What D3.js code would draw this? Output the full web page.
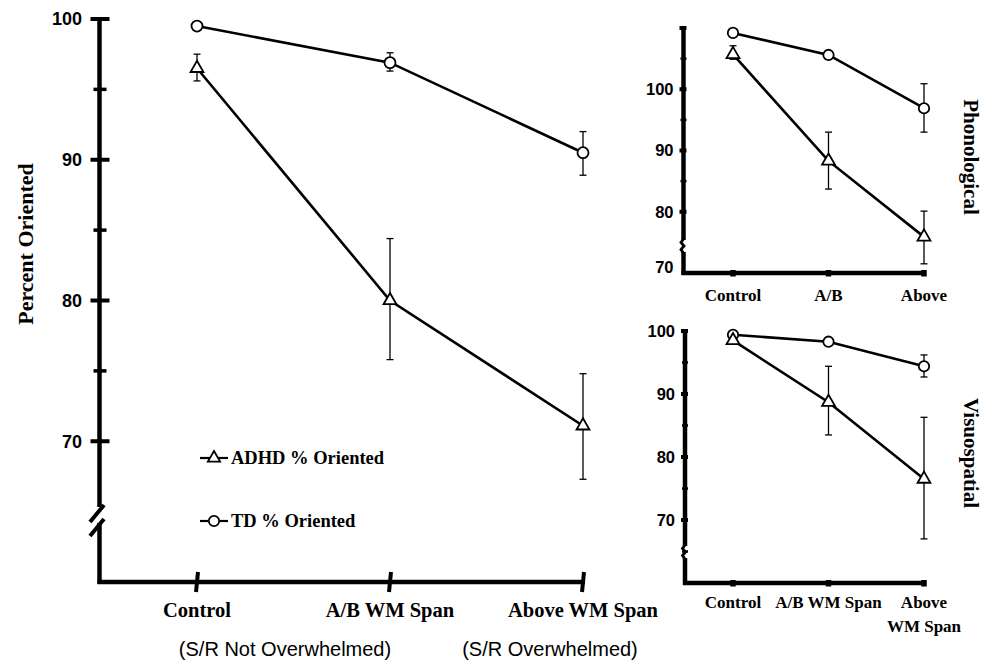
<!DOCTYPE html>
<html>
<head>
<meta charset="utf-8">
<script src="https://cdn.jsdelivr.net/npm/d3@7"></script>
<style>
  body { margin: 0; background: #fff; }
  svg { display: block; }
</style>
</head>
<body>
<div id="chart"></div>
<script>
// categories + values
const categories = ["Control", "A/B WM Span", "Above WM Span"];

const mainTD = [99.5, 96.9, 90.5];
const mainTDErr = [null, [96.3, 97.6], [88.9, 92.0]];
const mainADHD = [96.5, 80.0, 71.1];
const mainADHDErr = [[95.6, 97.5], [75.8, 84.4], [67.3, 74.8]];

const phonTD = [109.2, 105.6, 96.9];
const phonTDErr = [null, null, [93.0, 100.9]];
const phonADHD = [105.7, 88.3, 75.9];
const phonADHDErr = [[104.9, 107.1], [83.7, 93.0], [71.5, 80.1]];

const visTD = [99.4, 98.3, 94.4];
const visTDErr = [null, null, [92.7, 96.2]];
const visADHD = [98.5, 88.7, 76.5];
const visADHDErr = [[98.0, 98.9], [83.5, 94.4], [67.0, 86.3]];

const mainMajorTicks = [70, 80, 90, 100];
const mainMinorTicks = [75, 85, 95];
const smallMajorTicks = [70, 80, 90, 100];
const phonMinorTicks = [85, 95, 105];
const visMinorTicks = [65, 75, 85, 95];

const serif = "'Liberation Serif', 'Times New Roman', serif";
const sans = "'Liberation Sans', Arial, Helvetica, sans-serif";

const width = 989, height = 661;

const svg = d3.select("#chart")
  .append("svg")
  .attr("width", width)
  .attr("height", height);

function drawSeries(g, x, y, values, errs, shape, opts) {
  // error bars first so markers sit on top
  errs.forEach(function(e, i) {
    if (!e) return;
    var cx = x(categories[i]);
    g.append("line")
      .attr("x1", cx).attr("x2", cx)
      .attr("y1", y(e[0])).attr("y2", y(e[1]))
      .attr("stroke", "#000").attr("stroke-width", 1.3);
    [e[0], e[1]].forEach(function(v) {
      g.append("line")
        .attr("x1", cx - opts.cap).attr("x2", cx + opts.cap)
        .attr("y1", y(v)).attr("y2", y(v))
        .attr("stroke", "#000").attr("stroke-width", 1.3);
    });
  });

  var line = d3.line()
    .x(function(d, i) { return x(categories[i]); })
    .y(function(d) { return y(d); });

  g.append("path")
    .datum(values)
    .attr("d", line)
    .attr("fill", "none")
    .attr("stroke", "#000")
    .attr("stroke-width", opts.lineWidth);

  g.selectAll(null)
    .data(values)
    .enter()
    .append("path")
    .attr("d", d3.symbol().type(shape).size(shape === d3.symbolCircle ? opts.circleSize : opts.triSize))
    .attr("transform", function(d, i) {
      return "translate(" + x(categories[i]) + "," + y(d) + ")";
    })
    .attr("fill", "#fff")
    .attr("stroke", "#000")
    .attr("stroke-width", 1.8);
}

// ---------------- main panel ----------------
var mx = d3.scalePoint().domain(categories).range([197, 583]);
var my = d3.scaleLinear().domain([60, 100]).range([582, 19]);
var axisX = 99.5;
var main = svg.append("g");

// y axis with a break near the bottom
main.append("line")
  .attr("x1", axisX).attr("x2", axisX)
  .attr("y1", my(100) - 2).attr("y2", 507)
  .attr("stroke", "#000").attr("stroke-width", 4.5);
main.append("line")
  .attr("x1", axisX).attr("x2", axisX)
  .attr("y1", 523).attr("y2", my(60) + 2)
  .attr("stroke", "#000").attr("stroke-width", 4.5);
[[90, 522, 104, 505], [90, 536, 104, 519]].forEach(function(s) {
  main.append("line")
    .attr("x1", s[0]).attr("y1", s[1]).attr("x2", s[2]).attr("y2", s[3])
    .attr("stroke", "#000").attr("stroke-width", 4);
});

// x axis
main.append("line")
  .attr("x1", axisX - 2).attr("x2", mx("Above WM Span") + 2)
  .attr("y1", my(60)).attr("y2", my(60))
  .attr("stroke", "#000").attr("stroke-width", 4.5);

main.selectAll(null).data(mainMajorTicks).enter().append("line")
  .attr("x1", axisX - 9).attr("x2", axisX + 10)
  .attr("y1", function(d) { return my(d); }).attr("y2", function(d) { return my(d); })
  .attr("stroke", "#000").attr("stroke-width", 4);
main.selectAll(null).data(mainMinorTicks).enter().append("line")
  .attr("x1", axisX - 6).attr("x2", axisX + 7)
  .attr("y1", function(d) { return my(d); }).attr("y2", function(d) { return my(d); })
  .attr("stroke", "#000").attr("stroke-width", 3.5);

main.selectAll(null).data(mainMajorTicks).enter().append("text")
  .attr("x", 82).attr("y", function(d) { return my(d); })
  .attr("dy", "0.36em")
  .attr("text-anchor", "end")
  .style("font-family", sans).style("font-weight", "bold").style("font-size", "18px")
  .text(function(d) { return d; });

main.selectAll(null).data(categories).enter().append("line")
  .attr("x1", function(d) { return mx(d) - 1; }).attr("x2", function(d) { return mx(d) + 1; })
  .attr("y1", my(60) + 10).attr("y2", my(60) - 10)
  .attr("stroke", "#000").attr("stroke-width", 4);

main.selectAll(null).data(categories).enter().append("text")
  .attr("x", function(d) { return mx(d); }).attr("y", 617)
  .attr("text-anchor", "middle")
  .style("font-family", serif).style("font-weight", "bold").style("font-size", "20.5px")
  .text(function(d) { return d; });

main.append("text").attr("x", 285).attr("y", 656).attr("text-anchor", "middle")
  .style("font-family", sans).style("font-size", "20px")
  .text("(S/R Not Overwhelmed)");
main.append("text").attr("x", 550).attr("y", 656).attr("text-anchor", "middle")
  .style("font-family", sans).style("font-size", "20px")
  .text("(S/R Overwhelmed)");

main.append("text")
  .attr("transform", "translate(25,244) rotate(-90)")
  .attr("text-anchor", "middle").attr("dy", "0.35em")
  .style("font-family", serif).style("font-weight", "bold").style("font-size", "22px")
  .text("Percent Oriented");

var mainOpts = { cap: 3.5, lineWidth: 2.6, circleSize: 95, triSize: 72 };
drawSeries(main, mx, my, mainTD, mainTDErr, d3.symbolCircle, mainOpts);
drawSeries(main, mx, my, mainADHD, mainADHDErr, d3.symbolTriangle, mainOpts);

// legend
[["ADHD % Oriented", 458, d3.symbolTriangle], ["TD % Oriented", 521, d3.symbolCircle]].forEach(function(l) {
  main.append("line")
    .attr("x1", 200).attr("x2", 228).attr("y1", l[1]).attr("y2", l[1])
    .attr("stroke", "#000").attr("stroke-width", 2.2);
  main.append("path")
    .attr("d", d3.symbol().type(l[2]).size(l[2] === d3.symbolCircle ? 85 : 65))
    .attr("transform", "translate(214," + l[1] + ")")
    .attr("fill", "#fff").attr("stroke", "#000").attr("stroke-width", 1.8);
  main.append("text")
    .attr("x", 231).attr("y", l[1]).attr("dy", "0.33em")
    .style("font-family", serif).style("font-weight", "bold").style("font-size", "18.5px")
    .text(l[0]);
});

// ---------------- small panels ----------------
function smallPanel(cfg) {
  var g = svg.append("g");
  var x = d3.scalePoint().domain(categories).range([733, 924]);
  var y = d3.scaleLinear().domain(cfg.domain).range(cfg.range);
  var ax = cfg.axisX;
  var yb = y(cfg.domain[0]);

  g.append("line")
    .attr("x1", ax).attr("x2", ax)
    .attr("y1", y(cfg.domain[1]) - 1).attr("y2", cfg.breakY - 6)
    .attr("stroke", "#000").attr("stroke-width", 4.5);
  g.append("line")
    .attr("x1", ax).attr("x2", ax)
    .attr("y1", cfg.breakY + 6).attr("y2", yb + 2)
    .attr("stroke", "#000").attr("stroke-width", 4.5);
  // little zigzag break
  g.append("path")
    .attr("d", "M" + ax + "," + (cfg.breakY - 7) + " l-2.5,3.5 l3,3.5 l-3,3.5 l2.5,3.5")
    .attr("fill", "none").attr("stroke", "#000").attr("stroke-width", 2.8);

  g.append("line")
    .attr("x1", ax - 2).attr("x2", 926)
    .attr("y1", yb).attr("y2", yb)
    .attr("stroke", "#000").attr("stroke-width", 4.5);

  var majors = cfg.majors.concat([cfg.domain[1]]).filter(function(d) { return d > cfg.domain[0]; });
  g.selectAll(null).data(majors).enter().append("line")
    .attr("x1", ax - 4).attr("x2", ax + 3)
    .attr("y1", function(d) { return y(d); }).attr("y2", function(d) { return y(d); })
    .attr("stroke", "#000").attr("stroke-width", 4);
  g.selectAll(null).data(cfg.minors).enter().append("line")
    .attr("x1", ax - 3).attr("x2", ax + 3)
    .attr("y1", function(d) { return y(d); }).attr("y2", function(d) { return y(d); })
    .attr("stroke", "#000").attr("stroke-width", 2.5);

  g.selectAll(null).data(cfg.majors).enter().append("text")
    .attr("x", ax - 10)
    .attr("y", function(d) { return d === cfg.domain[0] ? y(d) - 6 : y(d); })
    .attr("dy", "0.36em")
    .attr("text-anchor", "end")
    .style("font-family", sans).style("font-weight", "bold").style("font-size", "16.5px")
    .text(function(d) { return d; });

  g.selectAll(null).data(categories).enter().append("line")
    .attr("x1", function(d) { return x(d); }).attr("x2", function(d) { return x(d); })
    .attr("y1", yb - 3).attr("y2", yb + 3.5)
    .attr("stroke", "#000").attr("stroke-width", 5.5);

  cfg.labels.forEach(function(lab, i) {
    var t = g.append("text")
      .attr("x", x(categories[i])).attr("y", cfg.labelY)
      .attr("text-anchor", "middle")
      .style("font-family", serif).style("font-weight", "bold").style("font-size", "17px");
    lab.forEach(function(s, j) {
      t.append("tspan").attr("x", x(categories[i])).attr("dy", j === 0 ? 0 : 24).text(s);
    });
  });

  g.append("text")
    .attr("transform", "translate(970," + cfg.titleY + ") rotate(90)")
    .attr("text-anchor", "middle").attr("dy", "0.3em")
    .style("font-family", serif).style("font-weight", "bold").style("font-size", "21px")
    .text(cfg.title);

  var o = { cap: 3.5, lineWidth: 2.6, circleSize: 85, triSize: 72 };
  drawSeries(g, x, y, cfg.td, cfg.tdErr, d3.symbolCircle, o);
  drawSeries(g, x, y, cfg.adhd, cfg.adhdErr, d3.symbolTriangle, o);
}

smallPanel({
  domain: [70, 110], range: [273, 28], axisX: 683.5, breakY: 246,
  majors: smallMajorTicks, minors: phonMinorTicks,
  labels: [["Control"], ["A/B"], ["Above"]], labelY: 301,
  title: "Phonological", titleY: 157,
  td: phonTD, tdErr: phonTDErr, adhd: phonADHD, adhdErr: phonADHDErr
});

smallPanel({
  domain: [60, 100], range: [583, 331], axisX: 685, breakY: 552,
  majors: smallMajorTicks, minors: visMinorTicks,
  labels: [["Control"], ["A/B WM Span"], ["Above", "WM Span"]], labelY: 608,
  title: "Visuospatial", titleY: 453,
  td: visTD, tdErr: visTDErr, adhd: visADHD, adhdErr: visADHDErr
});
</script>
</body>
</html>
